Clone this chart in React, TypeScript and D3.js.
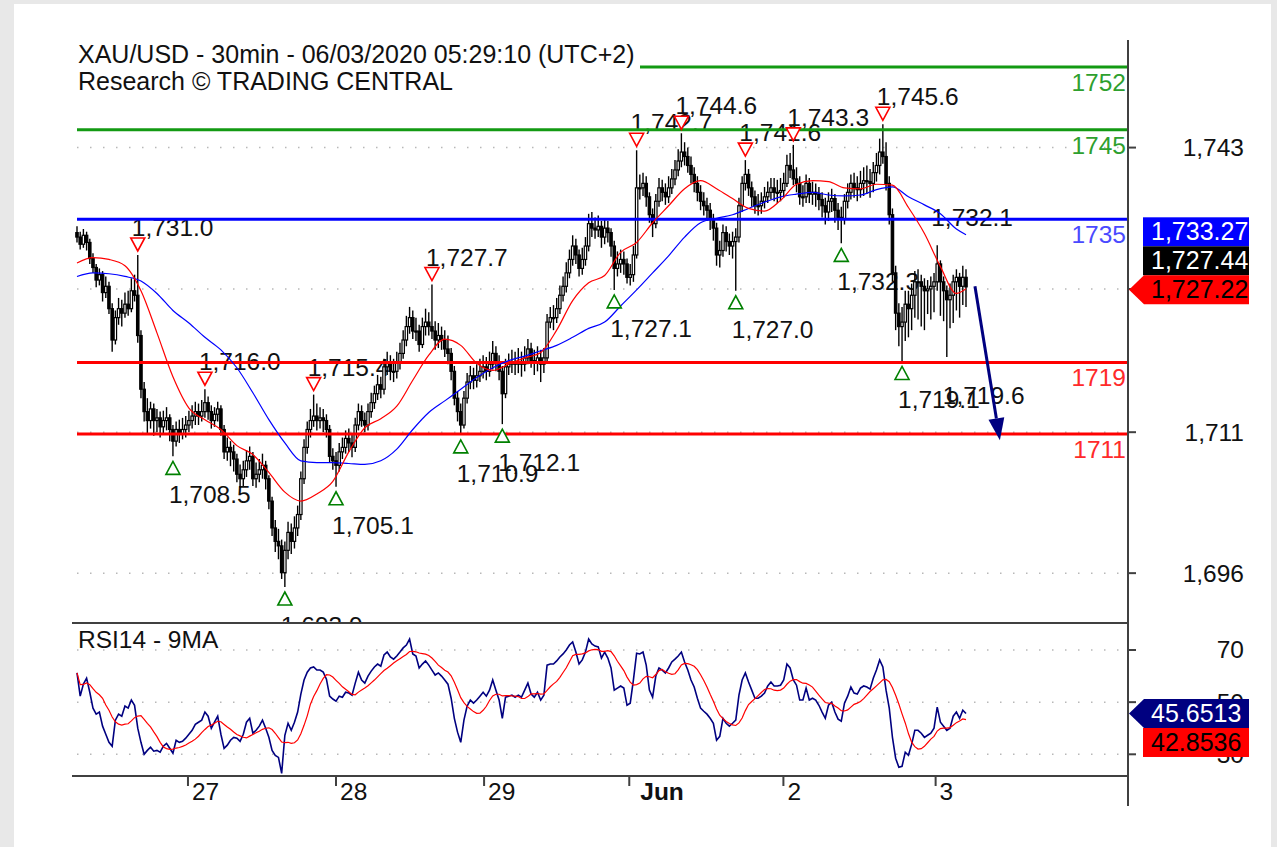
import React from 'react';
import * as d3 from 'd3';

const W = 1277;
const H = 847;
const FONT = '"Liberation Sans", Arial, Helvetica, sans-serif';

// ---------- price data (30-min bars, 26 May -> 3 Jun 2020) ----------
const firstOpen = 1733.5;
const closes = [
  1733.0, 1732.2, 1733.2, 1732.4, 1730.6, 1729.6, 1728.2, 1728.8, 1726.8, 1727.5,
  1725.0, 1721.5, 1724.0, 1725.0, 1724.5, 1725.5, 1725.0, 1727.0, 1726.5, 1722.0,
  1716.0, 1713.5, 1712.5, 1713.8, 1712.5, 1712.8, 1711.8, 1712.5, 1712.8, 1711.5,
  1710.2, 1711.5, 1711.0, 1711.5, 1712.0, 1712.5, 1713.0, 1713.5, 1713.0, 1713.5,
  1714.5, 1713.5, 1712.5, 1713.2, 1713.8, 1711.5, 1709.0, 1709.5, 1709.0, 1708.2,
  1706.5, 1706.0, 1707.0, 1708.0, 1708.5, 1706.0, 1706.5, 1707.0, 1707.5, 1706.0,
  1703.5, 1700.5, 1699.0, 1698.5, 1695.5, 1698.0, 1700.0, 1699.0, 1700.5, 1702.0,
  1706.0, 1709.5, 1711.5, 1712.5, 1713.0, 1712.5, 1712.8, 1712.5, 1711.5, 1708.5,
  1708.0, 1707.5, 1709.0, 1709.5, 1710.5, 1710.0, 1709.5, 1712.0, 1713.5, 1712.5,
  1712.0, 1713.5, 1714.5, 1715.5, 1716.5, 1716.0, 1718.5, 1719.0, 1718.0, 1718.0,
  1719.0, 1720.0, 1721.5, 1723.0, 1724.0, 1722.5, 1722.5, 1721.0, 1723.0, 1723.5,
  1723.0, 1722.5, 1721.5, 1722.0, 1721.5, 1720.5, 1720.0, 1718.0, 1715.0, 1713.5,
  1712.0, 1715.0, 1716.8, 1717.5, 1717.0, 1717.5, 1718.0, 1718.5, 1718.0, 1718.8,
  1720.0, 1719.0, 1718.0, 1715.5, 1718.5, 1718.8, 1719.0, 1718.8, 1719.0, 1718.8,
  1719.5, 1720.5, 1719.2, 1719.0, 1719.5, 1718.8, 1719.5, 1723.5, 1724.0, 1724.0,
  1725.0, 1726.5, 1727.5, 1729.0, 1730.5, 1732.0, 1731.0, 1729.5, 1730.5, 1732.0,
  1734.5, 1734.0, 1733.8, 1734.2, 1733.0, 1734.0, 1733.5, 1732.0, 1729.5, 1730.0,
  1730.5, 1730.0, 1728.5, 1728.8, 1731.0, 1738.5, 1738.5, 1739.0, 1737.5, 1735.5,
  1734.5, 1737.0, 1738.5, 1738.0, 1737.5, 1738.5, 1739.5, 1740.5, 1741.5, 1742.5,
  1742.0, 1741.0, 1740.0, 1739.0, 1738.0, 1737.0, 1736.5, 1736.0, 1735.0, 1734.0,
  1731.0, 1731.5, 1733.5, 1732.5, 1732.0, 1732.5, 1733.0, 1736.5, 1739.0, 1740.0,
  1738.5, 1737.5, 1736.5, 1736.5, 1737.0, 1737.5, 1738.0, 1738.5, 1738.0, 1738.0,
  1738.2, 1739.0, 1741.0, 1740.5, 1739.5, 1739.0, 1737.5, 1737.5, 1739.0, 1737.8,
  1738.0, 1737.8, 1737.2, 1736.5, 1735.8, 1737.0, 1737.3, 1736.0, 1735.2, 1735.0,
  1737.0, 1738.0, 1739.0, 1738.5, 1738.3, 1739.0, 1739.3, 1739.2, 1739.0, 1740.2,
  1741.0, 1742.5, 1742.0, 1739.0, 1735.5, 1729.0, 1724.5, 1723.0, 1723.5, 1725.5,
  1725.0, 1726.5, 1728.0, 1728.0, 1727.5, 1727.0, 1727.2, 1727.5, 1728.0, 1730.0,
  1728.0, 1727.0, 1726.0, 1726.5, 1728.0, 1728.5, 1727.5, 1728.5, 1727.44,
];
const highs = [
  1734.2, 1733.6, 1733.9, 1733.6, 1732.8, 1731.2, 1730.0, 1729.5, 1729.2, 1728.6,
  1728.0, 1725.6, 1724.8, 1726.2, 1726.0, 1726.8, 1727.0, 1728.4, 1728.8, 1731.0,
  1722.6, 1716.8, 1715.0, 1714.6, 1714.4, 1713.8, 1713.5, 1713.6, 1714.0, 1713.2,
  1712.0, 1712.4, 1712.6, 1712.8, 1713.0, 1713.6, 1714.2, 1714.6, 1714.4, 1714.8,
  1716.0, 1715.2, 1714.2, 1714.0, 1714.6, 1714.2, 1712.0, 1710.6, 1710.2, 1709.8,
  1708.8, 1707.6, 1708.0, 1709.2, 1709.6, 1709.0, 1707.8, 1708.2, 1708.8, 1708.0,
  1706.4, 1704.0, 1701.4, 1700.4, 1699.2, 1699.0, 1701.2, 1701.0, 1701.8, 1703.0,
  1706.8, 1710.4, 1712.4, 1713.8, 1715.4, 1714.4, 1714.0, 1713.8, 1713.2, 1712.0,
  1709.4, 1709.0, 1710.0, 1710.6, 1711.4, 1711.6, 1711.0, 1712.8, 1714.4, 1714.2,
  1713.4, 1714.4, 1715.6, 1716.4, 1717.6, 1717.4, 1719.4, 1720.2, 1719.8, 1719.4,
  1720.2, 1721.2, 1722.6, 1724.2, 1725.2, 1724.8, 1724.0, 1723.2, 1724.0, 1725.0,
  1724.6, 1727.7, 1723.6, 1723.4, 1723.0, 1722.6, 1722.0, 1720.6, 1718.6, 1715.8,
  1714.4, 1715.8, 1717.8, 1718.6, 1718.4, 1718.8, 1719.4, 1719.8, 1719.6, 1720.2,
  1721.4, 1720.8, 1719.8, 1718.6, 1719.4, 1720.0, 1720.4, 1720.2, 1720.6, 1720.2,
  1720.8, 1721.6, 1721.2, 1720.4, 1720.8, 1720.4, 1720.6, 1724.4, 1725.2, 1725.4,
  1726.2, 1727.6, 1728.6, 1730.2, 1731.6, 1733.2, 1732.8, 1731.6, 1731.8, 1733.0,
  1735.6, 1735.8, 1735.2, 1735.4, 1734.8, 1735.0, 1734.8, 1734.0, 1732.6, 1731.4,
  1731.6, 1731.4, 1730.6, 1730.0, 1732.0, 1742.7, 1740.0, 1740.2, 1739.8, 1738.0,
  1736.2, 1737.8, 1739.6, 1739.4, 1739.0, 1739.8, 1740.6, 1741.6, 1742.8, 1744.6,
  1743.6, 1743.0, 1742.0, 1740.8, 1739.8, 1738.8, 1738.0, 1737.4, 1736.8, 1735.6,
  1734.6, 1732.6, 1734.4, 1734.2, 1733.4, 1733.6, 1734.0, 1737.4, 1739.8, 1741.6,
  1740.6, 1739.2, 1738.2, 1737.8, 1738.0, 1738.6, 1739.2, 1739.6, 1739.6, 1739.4,
  1739.6, 1740.2, 1742.2, 1742.4, 1743.3, 1740.8, 1739.8, 1738.8, 1740.0, 1739.6,
  1739.2, 1739.0, 1738.6, 1738.0, 1737.4, 1738.0, 1738.4, 1737.8, 1736.8, 1736.4,
  1737.8, 1739.0, 1740.0, 1740.2, 1739.8, 1740.4, 1740.8, 1741.0, 1740.6, 1741.4,
  1742.4, 1744.0, 1745.6, 1743.6, 1739.8, 1736.2, 1729.8, 1725.6, 1725.2, 1727.0,
  1727.0, 1727.8, 1729.2, 1729.4, 1728.8, 1728.4, 1728.2, 1728.6, 1729.0, 1732.1,
  1730.4, 1728.6, 1727.6, 1727.8, 1728.8, 1729.4, 1729.0, 1729.8, 1729.4,
];
const lows = [
  1732.4, 1731.6, 1731.8, 1731.5, 1730.0, 1729.0, 1727.4, 1727.6, 1725.8, 1726.2,
  1724.4, 1720.2, 1721.0, 1723.2, 1723.0, 1724.0, 1724.2, 1724.6, 1725.8, 1721.2,
  1715.0, 1712.4, 1711.0, 1711.6, 1710.8, 1711.2, 1710.6, 1710.9, 1711.4, 1710.2,
  1708.5, 1709.6, 1710.0, 1710.4, 1710.6, 1711.2, 1711.6, 1712.0, 1712.0, 1712.4,
  1712.8, 1712.6, 1711.6, 1711.8, 1712.4, 1710.8, 1708.2, 1708.0, 1707.4, 1706.8,
  1705.6, 1705.0, 1705.2, 1706.2, 1707.0, 1705.2, 1705.0, 1705.6, 1706.0, 1704.8,
  1702.6, 1699.6, 1697.8, 1697.0, 1694.8, 1693.9, 1697.0, 1697.6, 1698.2, 1699.6,
  1701.4, 1705.4, 1708.8, 1710.6, 1711.8, 1711.4, 1711.6, 1711.2, 1710.6, 1707.8,
  1707.0, 1705.1, 1706.8, 1708.2, 1708.8, 1709.0, 1708.4, 1709.0, 1711.4, 1711.8,
  1711.2, 1711.4, 1712.8, 1713.8, 1714.8, 1715.0, 1715.4, 1717.6, 1717.0, 1716.8,
  1717.2, 1718.2, 1719.4, 1720.8, 1722.2, 1721.6, 1721.4, 1720.2, 1720.6, 1722.0,
  1722.0, 1721.6, 1720.4, 1720.6, 1720.4, 1719.6, 1718.8, 1717.0, 1714.2, 1712.4,
  1710.9, 1711.6, 1714.4, 1716.0, 1716.0, 1716.2, 1716.8, 1717.2, 1717.0, 1717.4,
  1718.2, 1718.0, 1717.0, 1712.1, 1715.0, 1717.6, 1717.8, 1717.6, 1717.8, 1717.4,
  1718.0, 1718.8, 1718.4, 1717.6, 1718.0, 1716.8, 1717.8, 1719.0, 1722.8, 1722.6,
  1723.4, 1724.4, 1725.8, 1726.8, 1728.4, 1729.8, 1730.0, 1728.6, 1728.8, 1729.8,
  1731.4, 1733.0, 1732.8, 1733.0, 1731.8, 1732.2, 1732.4, 1730.8, 1727.1, 1728.6,
  1729.0, 1728.8, 1727.8, 1727.6, 1728.0, 1730.6, 1737.2, 1737.6, 1736.4, 1734.6,
  1733.0, 1734.0, 1736.4, 1737.0, 1736.6, 1736.8, 1737.8, 1738.8, 1739.8, 1740.8,
  1741.0, 1740.2, 1739.0, 1738.0, 1737.0, 1736.0, 1735.4, 1734.8, 1733.8, 1732.6,
  1729.8, 1729.6, 1730.8, 1731.4, 1731.0, 1730.6, 1727.0, 1732.4, 1735.8, 1738.2,
  1737.6, 1736.4, 1735.6, 1735.4, 1735.6, 1736.2, 1736.8, 1737.2, 1737.0, 1736.8,
  1737.0, 1737.4, 1738.6, 1739.6, 1738.8, 1738.0, 1736.6, 1736.4, 1736.8, 1736.8,
  1736.6, 1736.4, 1736.0, 1735.2, 1734.4, 1734.8, 1735.8, 1734.6, 1733.8, 1732.3,
  1734.4, 1736.2, 1737.2, 1737.4, 1737.0, 1737.4, 1737.6, 1737.8, 1737.4, 1738.0,
  1739.2, 1740.0, 1741.2, 1738.2, 1734.4, 1728.0, 1722.6, 1720.8, 1719.1, 1721.4,
  1721.8, 1722.6, 1724.0, 1723.8, 1723.0, 1722.6, 1724.4, 1723.8, 1724.6, 1727.0,
  1724.2, 1723.6, 1719.6, 1722.8, 1723.4, 1724.8, 1724.0, 1725.4, 1725.2,
];

// moving averages on price, read every 5 bars
const maBars = [...d3.range(0, 276, 5), 278];
const maFast = [
  1730.1, 1730.7, 1730.5, 1729.8, 1727.0, 1722.3, 1717.4, 1713.9, 1712.6, 1711.5,
  1709.7, 1708.7, 1706.7, 1704.5, 1703.5, 1704.3, 1705.7, 1709.0, 1711.7, 1712.7,
  1714.1, 1717.0, 1719.8, 1721.6, 1720.9, 1718.9, 1718.1, 1718.8, 1719.5, 1720.1,
  1722.6, 1725.9, 1727.9, 1728.7, 1731.3, 1732.4, 1734.6, 1736.5, 1738.4, 1739.3,
  1738.4, 1737.3, 1736.2, 1735.9, 1737.1, 1738.9, 1739.3, 1739.2, 1738.5, 1738.4,
  1738.9, 1738.8, 1736.3, 1733.4, 1729.7, 1726.7, 1727.22,
];
const maSlow = [
  1728.6, 1729.0, 1728.9, 1728.6, 1728.1, 1726.7, 1724.8, 1723.4, 1721.8, 1720.4,
  1718.4, 1715.6, 1712.6, 1710.0, 1708.0, 1707.8, 1707.8, 1707.7, 1707.6, 1708.0,
  1709.3, 1711.5, 1713.4, 1714.7, 1716.0, 1717.3, 1718.4, 1719.2, 1719.7, 1720.3,
  1720.9, 1721.8, 1722.8, 1723.5, 1725.3, 1727.1, 1729.0, 1730.9, 1733.0, 1734.6,
  1735.1, 1735.5, 1736.2, 1736.9, 1737.5, 1737.8, 1738.0, 1737.7, 1737.6, 1737.7,
  1738.3, 1738.6, 1737.5, 1736.6, 1735.6, 1733.9, 1733.27,
];

// RSI 14
const rsi = [
  61.2, 52.3, 56.9, 59.2, 53.8, 47.7, 45.4, 46.2, 40.8, 37.7,
  34.6, 33.1, 43.1, 45.4, 44.6, 48.5, 47.7, 50.8, 48.8, 40.0,
  34.6, 30.0, 31.5, 32.7, 31.2, 31.5, 30.8, 33.1, 34.2, 32.3,
  30.4, 35.4, 34.6, 35.0, 36.2, 37.7, 39.2, 41.5, 42.3, 43.1,
  46.2, 44.6, 40.0, 42.3, 44.6, 37.7, 32.3, 33.5, 35.4, 36.5,
  36.2, 35.0, 37.7, 42.3, 43.8, 38.1, 39.2, 40.8, 43.1, 40.0,
  36.5, 31.5, 29.6, 28.8, 22.7, 37.3, 41.9, 39.2, 42.3, 46.2,
  53.1, 58.5, 61.5, 63.1, 63.5, 62.3, 62.3, 61.5, 58.8, 52.3,
  51.2, 50.4, 52.3, 51.9, 53.8, 53.5, 52.7, 57.3, 61.5, 58.5,
  57.3, 60.0, 61.9, 63.5, 64.6, 63.8, 68.1, 69.2, 67.3, 66.5,
  67.7, 69.2, 70.8, 71.9, 74.2, 68.5, 67.7, 63.1, 64.6, 65.8,
  64.2, 62.3, 60.4, 61.2, 60.0, 58.5, 56.9, 51.5, 43.8, 38.5,
  34.6, 43.1, 48.5, 50.8, 49.6, 50.8, 52.3, 53.8, 52.3, 54.6,
  58.5, 54.6, 50.8, 43.8, 51.9, 52.3, 52.7, 51.9, 52.7, 51.9,
  54.6, 57.3, 53.1, 51.9, 53.8, 50.8, 52.7, 64.2, 64.6, 64.6,
  65.8, 67.3, 68.5, 70.0, 71.9, 73.1, 69.2, 64.6, 66.2, 69.2,
  74.2, 72.3, 71.5, 71.2, 66.9, 69.2, 66.9, 63.1, 54.6, 55.4,
  56.2, 55.4, 48.8, 49.6, 58.5, 68.8, 68.5, 69.2, 64.2, 54.6,
  51.9, 60.0, 63.1, 62.3, 61.2, 63.1, 65.4, 66.5, 67.7, 69.2,
  65.4, 62.3, 58.5, 55.8, 51.5, 47.7, 46.5, 45.4, 43.8, 41.9,
  35.4, 36.9, 43.8, 41.9, 40.8, 41.9, 43.1, 52.7, 58.5, 61.2,
  57.7, 54.6, 51.5, 51.5, 52.3, 53.5, 56.2, 57.7, 56.2, 56.2,
  56.5, 58.5, 64.6, 63.1, 58.5, 56.5, 50.8, 50.8, 55.4, 50.8,
  51.5, 50.8, 48.8, 46.2, 43.8, 48.8, 50.0, 46.2, 43.5, 42.7,
  49.6, 52.3, 55.8, 53.5, 53.1, 55.4, 56.2, 55.8, 55.0, 59.2,
  62.3, 66.2, 63.5, 54.6, 47.7, 36.5, 28.5, 25.0, 25.4, 30.8,
  29.6, 33.8, 39.2, 39.2, 38.1, 36.5, 37.3, 38.1, 40.0, 48.1,
  42.3, 40.8, 39.2, 40.0, 44.6, 46.2, 43.8, 46.9, 45.65,
];
const rsiMaPeriod = 9;

// axes
const priceTicks = [1743.0, 1727.2, 1711.2, 1695.45];
const priceTickLabels = ['1,743', '1,727', '1,711', '1,696'];
const rsiTicks = [70, 50, 30];
const dayTickBars = [34.7, 81, 127.3, 172.7, 220.9, 268.5];
const dayTickLabels = ['27', '28', '29', 'Jun', '2', '3'];
const dayTickBold = [false, false, false, true, false, false];

// key levels
const levelValues = [1752, 1745, 1735, 1719, 1711];
const levelLabels = ['1752', '1745', '1735', '1719', '1711'];
const levelLineColors = ['#139a13', '#139a13', '#0000ff', '#ff0000', '#ff0000'];
const levelTextColors = ['#2ea02e', '#2ea02e', '#4a4aff', '#ff2a2a', '#ff2a2a'];

// swing annotations
const peakBars = [19, 40, 74, 111, 175, 189, 209, 224, 252, 269];
const peakMarked = [true, true, true, true, true, true, true, true, true, false];
const troughBars = [30, 65, 81, 120, 133, 168, 206, 239, 258, 272];
const troughMarked = [true, true, true, true, true, true, true, true, true, false];

// projection arrow (bar index, price)
const arrowFrom = [280.8, 1727.5];
const arrowTo = [288.6, 1710.3];

// value boxes
const priceBoxValues = [1733.27, 1727.44, 1727.22];
const priceBoxTexts = ['1,733.27', '1,727.44', '1,727.22'];
const priceBoxFills = ['#0000ff', '#000000', '#ff0000'];
const priceBoxInk = ['#ffffff', '#ffffff', '#000000'];
const priceBoxArrow = 2;
const rsiBoxValues = [45.6513, 42.8536];
const rsiBoxTexts = ['45.6513', '42.8536'];
const rsiBoxFills = ['#000080', '#ff0000'];
const rsiBoxInk = ['#ffffff', '#000000'];
const rsiBoxArrow = 0;

const headerLines = [
  'XAU/USD - 30min - 06/03/2020 05:29:10 (UTC+2)',
  'Research \u00A9 TRADING CENTRAL',
];

export default function App() {
  const n = closes.length;
  const x = d3.scaleLinear().domain([0, n - 1]).range([77, 966]);
  const y = d3.scaleLinear().domain([1689.88, 1755.02]).range([623, 40]);
  const yr = d3.scaleLinear().domain([21.68, 80.35]).range([776, 623]);
  const fmt = d3.format(',.1f');

  const opens = [firstOpen, ...closes.slice(0, -1)];

  const plotL = 72;
  const axisX = 1128;

  const maLine = d3
    .line<[number, number]>()
    .x((d) => x(d[0]))
    .y((d) => y(d[1]))
    .curve(d3.curveMonotoneX);
  const fastPts = maBars.map((b, i) => [b, maFast[i]] as [number, number]);
  const slowPts = maBars.map((b, i) => [b, maSlow[i]] as [number, number]);

  const rsiMa = rsi.map((_, i) => d3.mean(rsi.slice(Math.max(0, i - rsiMaPeriod + 1), i + 1)) as number);
  const rsiLine = d3
    .line<number>()
    .x((_, i) => x(i))
    .y((d) => yr(d));

  const fs = 24.5;

  const boxes = (
    values: number[],
    texts: string[],
    fills: string[],
    inks: string[],
    arrowIdx: number,
    scale: (v: number) => number,
    keyPrefix: string
  ) => {
    const bh = 29;
    const anchor = scale(values[arrowIdx]) + (keyPrefix === 'p' ? 1 : 0);
    return values.map((v, i) => {
      const cy = anchor + (i - arrowIdx) * bh;
      const top = cy - bh / 2;
      const bot = cy + bh / 2;
      const shape =
        i === arrowIdx ? (
          <polygon
            points={`1129,${cy} 1144,${top} 1249,${top} 1249,${bot} 1144,${bot}`}
            fill={fills[i]}
          />
        ) : (
          <rect x={1143} y={top} width={106} height={bh} fill={fills[i]} />
        );
      return (
        <g key={keyPrefix + i}>
          {shape}
          <text x={1151} y={cy + 8.5} fontSize={25} fill={inks[i]} fontFamily={FONT}>
            {texts[i]}
          </text>
        </g>
      );
    });
  };

  // arrow geometry
  const ax1 = x(arrowFrom[0]);
  const ay1 = y(arrowFrom[1]);
  const ax2 = x(arrowTo[0]);
  const ay2 = y(arrowTo[1]);
  const len = Math.hypot(ax2 - ax1, ay2 - ay1);
  const ux = (ax2 - ax1) / len;
  const uy = (ay2 - ay1) / len;
  const headL = 22;
  const headW = 8;
  const bx = ax2 - ux * headL;
  const by = ay2 - uy * headL;

  return (
    <svg
      width={W}
      height={H}
      style={{ position: 'absolute', left: 0, top: 0, display: 'block' }}
      fontFamily={FONT}
    >
      <rect x={0} y={0} width={W} height={H} fill="#e8e8e8" />
      <rect x={14} y={4} width={1257} height={H - 4} fill="#ffffff" />

      {/* price grid */}
      {priceTicks.map((t, i) => (
        <line
          key={'pg' + i}
          x1={77}
          x2={axisX}
          y1={y(t)}
          y2={y(t)}
          stroke="#b8b8b8"
          strokeWidth={1.5}
          strokeDasharray="1.5 11.5"
        />
      ))}

      {/* annotation labels (under candles) */}
      {peakBars.map((b, i) => {
        const top = y(highs[b]) - 4 - 13;
        return (
          <text key={'pt' + i} x={x(b) - 6} y={top - 2} fontSize={fs} fill="#111">
            {fmt(highs[b])}
          </text>
        );
      })}
      {troughBars.map((b, i) => {
        const bottom = y(lows[b]) + 5 + 13;
        return (
          <text key={'tt' + i} x={x(b) - 4} y={bottom + 29} fontSize={fs} fill="#111">
            {fmt(lows[b])}
          </text>
        );
      })}

      {/* candles */}
      <g>
        {closes.map((c, i) => {
          const o = opens[i];
          const cx = x(i);
          const yt = y(Math.max(o, c));
          const yb = y(Math.min(o, c));
          const up = c > o;
          return (
            <g key={'c' + i}>
              <line x1={cx} x2={cx} y1={y(highs[i])} y2={y(lows[i])} stroke="#000" strokeWidth={1.4} />
              <rect
                x={cx - 1.2}
                y={yt}
                width={2.4}
                height={Math.max(1, yb - yt)}
                fill={up ? '#fff' : '#000'}
                stroke="#000"
                strokeWidth={1.2}
              />
            </g>
          );
        })}
      </g>

      {/* levels */}
      {levelValues.map((v, i) => (
        <g key={'lv' + i}>
          <line x1={77} x2={axisX} y1={y(v)} y2={y(v)} stroke={levelLineColors[i]} strokeWidth={3} />
          <text x={1126} y={y(v) + 24} fontSize={fs} textAnchor="end" fill={levelTextColors[i]}>
            {levelLabels[i]}
          </text>
        </g>
      ))}

      {/* moving averages */}
      <path d={maLine(slowPts) || ''} fill="none" stroke="#0000ff" strokeWidth={1.2} />
      <path d={maLine(fastPts) || ''} fill="none" stroke="#ff0000" strokeWidth={1.2} />

      {/* markers */}
      {peakBars.map((b, i) => {
        if (!peakMarked[i]) return null;
        const cx = x(b);
        const bot = y(highs[b]) - 4;
        const top = bot - 13;
        return (
          <polygon
            key={'pm' + i}
            points={`${cx - 7},${top} ${cx + 7},${top} ${cx},${bot}`}
            fill="#fff"
            stroke="#ff0000"
            strokeWidth={1.6}
          />
        );
      })}
      {troughBars.map((b, i) => {
        if (!troughMarked[i]) return null;
        const cx = x(b);
        const top = y(lows[b]) + 5;
        const bot = top + 13;
        return (
          <polygon
            key={'tm' + i}
            points={`${cx - 7},${bot} ${cx + 7},${bot} ${cx},${top}`}
            fill="#fff"
            stroke="#008000"
            strokeWidth={1.6}
          />
        );
      })}

      {/* projection arrow */}
      <line x1={ax1} y1={ay1} x2={bx} y2={by} stroke="#000080" strokeWidth={3} />
      <polygon
        points={`${ax2},${ay2} ${bx - uy * headW},${by + ux * headW} ${bx + uy * headW},${by - ux * headW}`}
        fill="#000080"
      />

      {/* header */}
      <rect x={74} y={40} width={566} height={56} fill="#fff" />
      {headerLines.map((t, i) => (
        <text key={'h' + i} x={78} y={63 + i * 27} fontSize={25} fill="#111">
          {t}
        </text>
      ))}

      {/* RSI panel */}
      <rect x={plotL} y={623} width={axisX - plotL} height={153} fill="#fff" />
      {rsiTicks.map((t, i) => (
        <line
          key={'rg' + i}
          x1={77}
          x2={axisX}
          y1={yr(t)}
          y2={yr(t)}
          stroke="#b8b8b8"
          strokeWidth={1.5}
          strokeDasharray="1.5 11.5"
        />
      ))}
      <path d={rsiLine(rsi) || ''} fill="none" stroke="#000080" strokeWidth={1.6} />
      <path d={rsiLine(rsiMa) || ''} fill="none" stroke="#ff0000" strokeWidth={1.2} />
      <text x={78} y={648} fontSize={fs} fill="#111">
        RSI14 - 9MA
      </text>
      <line x1={plotL} x2={axisX} y1={623} y2={623} stroke="#404040" strokeWidth={2} />
      <line x1={plotL} x2={axisX} y1={776} y2={776} stroke="#404040" strokeWidth={2} />

      {/* right axis */}
      <line x1={axisX} x2={axisX} y1={40} y2={806} stroke="#404040" strokeWidth={2} />
      {priceTicks.map((t, i) => (
        <g key={'pt-ax' + i}>
          <line x1={axisX} x2={axisX + 8} y1={y(t)} y2={y(t)} stroke="#404040" strokeWidth={2} />
          <text x={1244} y={y(t) + 8.5} fontSize={fs} textAnchor="end" fill="#111">
            {priceTickLabels[i]}
          </text>
        </g>
      ))}
      {rsiTicks.map((t, i) => (
        <g key={'rt-ax' + i}>
          <line x1={axisX} x2={axisX + 8} y1={yr(t)} y2={yr(t)} stroke="#404040" strokeWidth={2} />
          <text x={1244} y={yr(t) + 8.5} fontSize={fs} textAnchor="end" fill="#111">
            {String(t)}
          </text>
        </g>
      ))}

      {/* date axis */}
      {dayTickBars.map((b, i) => (
        <g key={'d' + i}>
          <line x1={x(b)} x2={x(b)} y1={777} y2={786} stroke="#404040" strokeWidth={2} />
          <text
            x={x(b) + (dayTickBold[i] ? 11 : 4)}
            y={800}
            fontSize={fs}
            fontWeight={dayTickBold[i] ? 'bold' : 'normal'}
            fill="#111"
          >
            {dayTickLabels[i]}
          </text>
        </g>
      ))}

      {/* value boxes */}
      {boxes(priceBoxValues, priceBoxTexts, priceBoxFills, priceBoxInk, priceBoxArrow, y, 'p')}
      {boxes(rsiBoxValues, rsiBoxTexts, rsiBoxFills, rsiBoxInk, rsiBoxArrow, yr, 'r')}
    </svg>
  );
}
